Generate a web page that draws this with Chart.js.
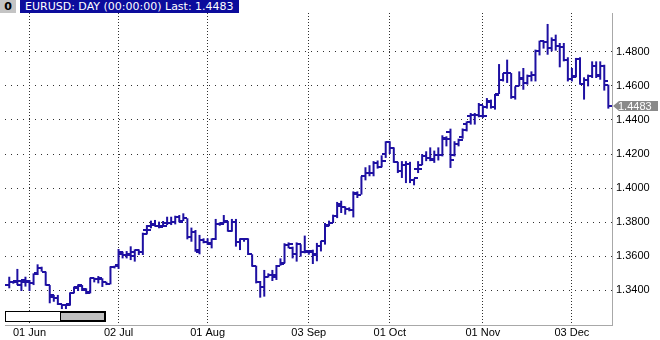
<!DOCTYPE html>
<html>
<head>
<meta charset="utf-8">
<script src="https://cdn.jsdelivr.net/npm/chart.js@4/dist/chart.umd.min.js"></script>
<style>
  html, body { margin: 0; padding: 0; background: #fff; }
  #wrap { position: relative; width: 660px; height: 340px; overflow: hidden; }
  #c { position: absolute; left: 0; top: 0; }
  .zero { position: absolute; left: 0; top: 0; width: 16px; height: 13px; background: #c4c4c4;
          font: bold 11px "DejaVu Sans", sans-serif; line-height: 13px; text-align: center; color: #000; }
  .title { position: absolute; left: 20px; top: 0; width: 219px; height: 13px; background: #0c0c9c;
           font: 11px "DejaVu Sans", sans-serif; line-height: 13px; color: #fff; padding-left: 5px; box-sizing: border-box; white-space: nowrap; }
  .sb { position: absolute; left: 5px; top: 311px; width: 101px; height: 11px; border: 1px solid #000; background: #fff; box-sizing: border-box; }
  .sbt { position: absolute; left: 60px; top: 312px; width: 45px; height: 9px; border: 1px solid #000; background: #c0c0c0; box-sizing: border-box; }
</style>
</head>
<body>
<div id="wrap">
  <canvas id="c" width="660" height="340"></canvas>
  <div class="zero">0</div>
  <div class="title">EURUSD: DAY (00:00:00) Last: 1.4483</div>
  <div class="sb"></div>
  <div class="sbt"></div>
</div>
<script>
// ---- data ----
const opens = [
1.3429,1.3445,1.3453,1.3429,1.3459,1.3449,1.3439,1.3498,1.3527,1.3508,
1.3429,1.3361,1.3351,1.3316,1.3312,1.3312,1.3382,1.3420,1.3425,1.3400,
1.3386,1.3469,1.3465,1.3465,1.3445,1.3437,1.3537,1.3547,1.3610,1.3606,
1.3606,1.3625,1.3633,1.3625,1.3751,1.3778,1.3786,1.3778,1.3778,1.3792,
1.3792,1.3802,1.3831,1.3806,1.3822,1.3714,1.3743,1.3625,1.3694,1.3680,
1.3669,1.3700,1.3786,1.3792,1.3802,1.3747,1.3802,1.3684,1.3700,1.3700,
1.3610,1.3543,1.3445,1.3420,1.3478,1.3488,1.3478,1.3543,1.3557,1.3665,
1.3649,1.3610,1.3669,1.3622,1.3627,1.3627,1.3608,1.3657,1.3686,1.3780,
1.3794,1.3833,1.3892,1.3886,1.3878,1.3873,1.3965,1.3961,1.4069,1.4088,
1.4088,1.4148,1.4122,1.4200,1.4271,1.4235,1.4154,1.4102,1.4138,1.4142,
1.4049,1.4112,1.4138,1.4186,1.4177,1.4167,1.4196,1.4192,1.4290,1.4329,
1.4196,1.4259,1.4300,1.4376,1.4422,1.4431,1.4431,1.4422,1.4475,1.4506,
1.4475,1.4553,1.4637,1.4676,1.4676,1.4533,1.4598,1.4643,1.4618,1.4657,
1.4663,1.4808,1.4863,1.4859,1.4824,1.4873,1.4833,1.4827,1.4755,1.4643,
1.4657,1.4761,1.4612,1.4637,1.4657,1.4716,1.4667,1.4716,1.4608];
const highs = [
1.3478,1.3453,1.3524,1.3453,1.3478,1.3459,1.3498,1.3551,1.3537,1.3508,
1.3429,1.3371,1.3371,1.3318,1.3318,1.3386,1.3420,1.3433,1.3429,1.3410,
1.3473,1.3473,1.3482,1.3469,1.3449,1.3539,1.3543,1.3641,1.3625,1.3629,
1.3657,1.3639,1.3639,1.3737,1.3782,1.3808,1.3812,1.3802,1.3806,1.3831,
1.3831,1.3837,1.3841,1.3851,1.3822,1.3767,1.3753,1.3724,1.3704,1.3704,
1.3704,1.3818,1.3798,1.3841,1.3806,1.3818,1.3818,1.3704,1.3704,1.3704,
1.3610,1.3543,1.3453,1.3518,1.3498,1.3518,1.3547,1.3586,1.3675,1.3680,
1.3655,1.3680,1.3669,1.3720,1.3631,1.3637,1.3677,1.3690,1.3794,1.3808,
1.3843,1.3918,1.3925,1.3892,1.3886,1.3980,1.3980,1.4069,1.4122,1.4134,
1.4158,1.4162,1.4192,1.4275,1.4275,1.4239,1.4154,1.4158,1.4158,1.4154,
1.4055,1.4158,1.4200,1.4216,1.4239,1.4220,1.4239,1.4310,1.4304,1.4349,
1.4275,1.4290,1.4350,1.4392,1.4441,1.4441,1.4500,1.4486,1.4529,1.4520,
1.4553,1.4729,1.4676,1.4755,1.4676,1.4598,1.4686,1.4706,1.4667,1.4686,
1.4814,1.4867,1.4867,1.4965,1.4886,1.4902,1.4853,1.4853,1.4769,1.4706,
1.4765,1.4769,1.4651,1.4667,1.4745,1.4745,1.4745,1.4725,1.4608];
const lows = [
1.3410,1.3437,1.3429,1.3394,1.3420,1.3394,1.3429,1.3488,1.3508,1.3425,
1.3322,1.3331,1.3312,1.3288,1.3288,1.3308,1.3380,1.3394,1.3394,1.3376,
1.3380,1.3445,1.3439,1.3418,1.3429,1.3433,1.3527,1.3524,1.3586,1.3586,
1.3576,1.3567,1.3606,1.3606,1.3727,1.3763,1.3773,1.3763,1.3773,1.3782,
1.3782,1.3786,1.3798,1.3806,1.3698,1.3684,1.3625,1.3610,1.3675,1.3665,
1.3645,1.3694,1.3778,1.3792,1.3743,1.3743,1.3655,1.3635,1.3684,1.3606,
1.3537,1.3439,1.3355,1.3361,1.3473,1.3453,1.3459,1.3543,1.3557,1.3645,
1.3586,1.3567,1.3596,1.3616,1.3608,1.3553,1.3569,1.3627,1.3667,1.3775,
1.3794,1.3823,1.3853,1.3843,1.3863,1.3827,1.3941,1.3961,1.4045,1.4069,
1.4069,1.4114,1.4122,1.4177,1.4200,1.4148,1.4088,1.4059,1.4029,1.4029,
1.4016,1.4088,1.4134,1.4158,1.4158,1.4148,1.4162,1.4186,1.4245,1.4118,
1.4186,1.4245,1.4290,1.4333,1.4373,1.4373,1.4416,1.4412,1.4467,1.4467,
1.4461,1.4553,1.4627,1.4618,1.4525,1.4520,1.4598,1.4578,1.4608,1.4627,
1.4627,1.4780,1.4820,1.4784,1.4804,1.4808,1.4710,1.4745,1.4627,1.4627,
1.4651,1.4608,1.4520,1.4598,1.4647,1.4647,1.4637,1.4573,1.4467];
const closes = [
1.3445,1.3445,1.3453,1.3449,1.3453,1.3439,1.3492,1.3527,1.3508,1.3429,
1.3371,1.3355,1.3316,1.3312,1.3316,1.3382,1.3414,1.3429,1.3406,1.3382,
1.3469,1.3465,1.3469,1.3445,1.3437,1.3537,1.3539,1.3625,1.3606,1.3610,
1.3602,1.3633,1.3625,1.3727,1.3751,1.3782,1.3778,1.3773,1.3778,1.3792,
1.3802,1.3831,1.3802,1.3822,1.3714,1.3743,1.3635,1.3694,1.3680,1.3675,
1.3700,1.3786,1.3786,1.3806,1.3747,1.3802,1.3684,1.3700,1.3700,1.3610,
1.3543,1.3449,1.3420,1.3478,1.3488,1.3488,1.3543,1.3551,1.3665,1.3669,
1.3610,1.3669,1.3622,1.3625,1.3624,1.3612,1.3657,1.3686,1.3775,1.3794,
1.3833,1.3906,1.3886,1.3878,1.3873,1.3971,1.3961,1.4069,1.4088,1.4088,
1.4148,1.4122,1.4158,1.4271,1.4235,1.4154,1.4098,1.4138,1.4142,1.4049,
1.4059,1.4114,1.4186,1.4177,1.4173,1.4196,1.4192,1.4294,1.4290,1.4167,
1.4259,1.4280,1.4340,1.4388,1.4431,1.4431,1.4486,1.4422,1.4510,1.4475,
1.4549,1.4637,1.4676,1.4676,1.4533,1.4598,1.4647,1.4618,1.4657,1.4663,
1.4808,1.4863,1.4859,1.4824,1.4873,1.4833,1.4827,1.4755,1.4643,1.4651,
1.4761,1.4612,1.4637,1.4657,1.4716,1.4657,1.4716,1.4631,1.4483];

// bar index of each month gridline and its label
const xTickIndex  = [5, 27, 49, 74, 94, 117, 139];
const xTickLabels = ['01 Jun', '02 Jul', '01 Aug', '03 Sep', '01 Oct', '01 Nov', '03 Dec'];
const yTickValues = [1.34, 1.36, 1.38, 1.40, 1.42, 1.44, 1.46, 1.48];

// ---- styles ----
const BAR = '#1e10a2';
const AXIS_FONT = { family: 'Liberation Sans', size: 11 };

function tickImage(side) {
  const cv = document.createElement('canvas');
  cv.width = 8; cv.height = 2;
  const g = cv.getContext('2d');
  g.fillStyle = BAR;
  if (side === 'left') g.fillRect(0, 0, 4, 2); else g.fillRect(4, 0, 4, 2);
  return cv;
}
const openImg = tickImage('left');
const closeImg = tickImage('right');

const hl = highs.map((h, i) => ({ x: i, y: [lows[i], h] }));
const op = opens.map((o, i) => ({ x: i, y: o }));
const cl = closes.map((c, i) => ({ x: i, y: c }));

const lastTag = {
  id: 'lastTag',
  beforeDatasetsDraw(chart) { chart.ctx.imageSmoothingEnabled = false; },
  afterDraw(chart) {
    const ctx = chart.ctx;
    const y = Math.round(chart.scales.y.getPixelForValue(closes[closes.length - 1]));
    const x0 = chart.chartArea.right + 1;
    ctx.save();
    ctx.fillStyle = '#8a8a8a';
    ctx.beginPath();
    ctx.moveTo(x0, y);
    ctx.lineTo(x0 + 6, y - 5);
    ctx.lineTo(658, y - 5);
    ctx.lineTo(658, y + 5);
    ctx.lineTo(x0 + 6, y + 5);
    ctx.closePath();
    ctx.fill();
    ctx.fillStyle = '#ffffff';
    ctx.font = '11px "Liberation Sans"';
    ctx.textBaseline = 'middle';
    ctx.textAlign = 'left';
    ctx.fillText(closes[closes.length - 1].toFixed(4), x0 + 5, y + 0.5);
    ctx.restore();
  }
};

new Chart(document.getElementById('c'), {
  type: 'bar',
  data: {
    datasets: [
      { type: 'bar', data: hl, backgroundColor: BAR, borderWidth: 0, barThickness: 2, inflateAmount: 0, order: 3 },
      { type: 'line', data: op, showLine: false, pointStyle: openImg, pointRadius: 2, order: 2 },
      { type: 'line', data: cl, showLine: false, pointStyle: closeImg, pointRadius: 2, order: 1 }
    ]
  },
  options: {
    responsive: false,
    animation: false,
    events: [],
    layout: { padding: { top: 13, left: 0, right: 0, bottom: 0 } },
    plugins: { legend: { display: false }, tooltip: { enabled: false } },
    scales: {
      x: {
        type: 'linear', position: 'bottom', min: -1.054, max: 148.906, offset: false,
        afterBuildTicks: s => { s.ticks = xTickIndex.map(v => ({ value: v })); },
        afterFit: s => { s.height = 15; },
        ticks: {
          autoSkip: false, maxRotation: 0, padding: 1, color: '#000', font: AXIS_FONT,
          callback: v => { const k = xTickIndex.indexOf(v); return k >= 0 ? xTickLabels[k] : ''; }
        },
        grid: { color: '#303030', lineWidth: 1, drawTicks: false, offset: false },
        border: { display: true, color: '#a8a8a8', width: 1, dash: [1, 2] }
      },
      y: {
        type: 'linear', position: 'right', min: 1.319412, max: 1.502941,
        afterBuildTicks: s => { s.ticks = yTickValues.map(v => ({ value: v })); },
        afterFit: s => { s.width = 48; },
        ticks: { padding: 4, color: '#000', font: AXIS_FONT, callback: v => Number(v).toFixed(4) },
        grid: { color: '#303030', lineWidth: 1, drawTicks: false },
        border: { display: true, color: '#a8a8a8', width: 1, dash: [1, 5] }
      }
    }
  },
  plugins: [lastTag]
});
</script>
</body>
</html>
